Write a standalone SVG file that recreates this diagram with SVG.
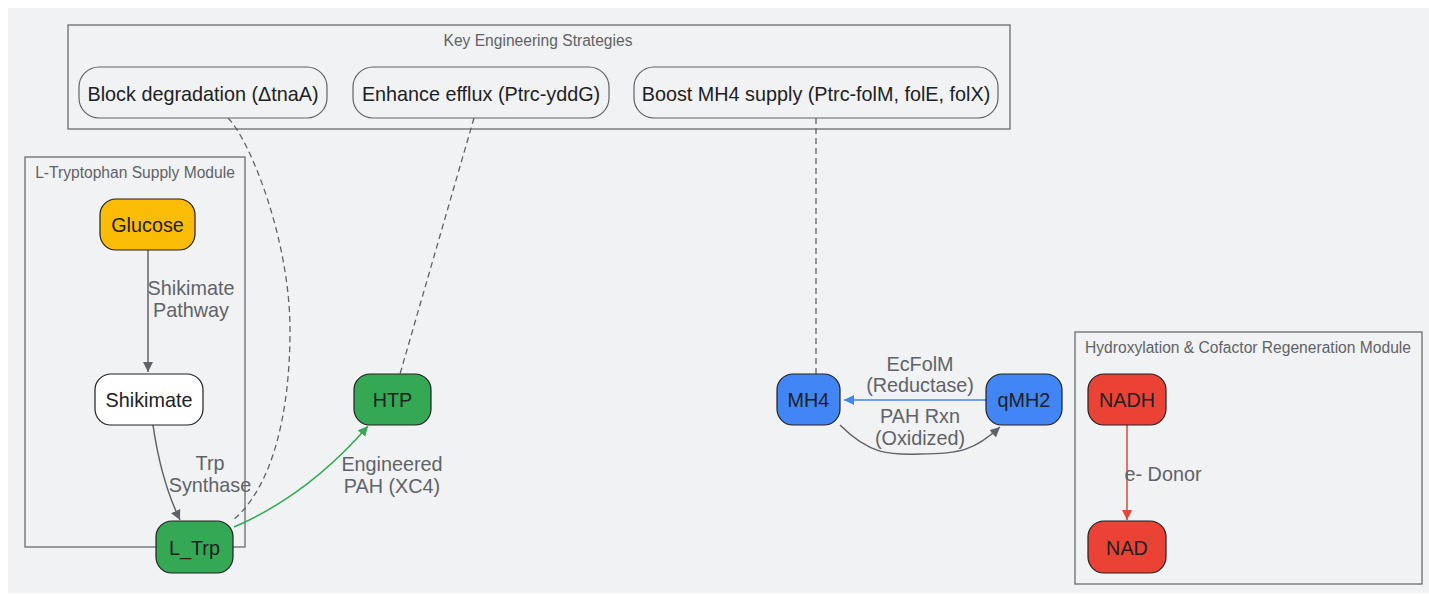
<svg xmlns="http://www.w3.org/2000/svg" width="1429" height="594" viewBox="0 0 1429 594">
<style>
.cl{fill:none;stroke:#6b6b6b;stroke-width:1.3}
.ct{font-family:"Liberation Sans",Arial,sans-serif;font-size:15.6px;fill:#5f6368;text-anchor:middle}
.nd{stroke:#202124;stroke-width:1.2}
.st{fill:#f1f2f4;stroke:#5f6368;stroke-width:1.2}
.nt{font-family:"Liberation Sans",Arial,sans-serif;font-size:19.8px;fill:#202124;text-anchor:middle;dominant-baseline:central}
.lb{font-family:"Liberation Sans",Arial,sans-serif;font-size:19.8px;fill:#5f6368;text-anchor:middle}
.e{fill:none;stroke-width:1.5}
.d{fill:none;stroke:#5f6368;stroke-width:1.3;stroke-dasharray:6,4}
</style>
<defs>
<marker id="ag" viewBox="0 0 10 10" refX="10" refY="5" markerWidth="10" markerHeight="10" markerUnits="userSpaceOnUse" orient="auto"><path d="M0,0L10,5L0,10z" fill="#5f6368"/></marker>
<marker id="agn" viewBox="0 0 10 10" refX="10" refY="5" markerWidth="10" markerHeight="10" markerUnits="userSpaceOnUse" orient="auto"><path d="M0,0L10,5L0,10z" fill="#34a853"/></marker>
<marker id="ab" viewBox="0 0 10 10" refX="10" refY="5" markerWidth="10" markerHeight="10" markerUnits="userSpaceOnUse" orient="auto"><path d="M0,0L10,5L0,10z" fill="#4285f4"/></marker>
<marker id="ar" viewBox="0 0 10 10" refX="10" refY="5" markerWidth="10" markerHeight="10" markerUnits="userSpaceOnUse" orient="auto"><path d="M0,0L10,5L0,10z" fill="#ea4335"/></marker>
</defs>
<rect x="8" y="8" width="1421" height="585" fill="#f1f2f4"/>
<g id="cluster-strategies">
<rect class="cl" x="68" y="25" width="942" height="104"/>
<text class="ct" x="538" y="46">Key Engineering Strategies</text>
</g>
<g id="cluster-trp">
<rect class="cl" x="25" y="157" width="220" height="390"/>
<text class="ct" x="135" y="178">L-Tryptophan Supply Module</text>
</g>
<g id="cluster-hydrox">
<rect class="cl" x="1075" y="332" width="347" height="252"/>
<text class="ct" x="1248" y="353">Hydroxylation &amp; Cofactor Regeneration Module</text>
</g>
<g id="connectors">
<path class="e" stroke="#5f6368" d="M148,250 L148,372" marker-end="url(#ag)"/>
<text class="lb" x="191" y="295">Shikimate</text>
<text class="lb" x="191" y="317">Pathway</text>
<path class="e" stroke="#5f6368" d="M153,425 C158,460 168,495 180,520" marker-end="url(#ag)"/>
<text class="lb" x="210" y="470">Trp</text>
<text class="lb" x="210" y="492">Synthase</text>
<path class="e" stroke="#34a853" d="M234,527 C285,505 330,470 368,426" marker-end="url(#agn)"/>
<text class="lb" x="392" y="471">Engineered</text>
<text class="lb" x="392" y="493">PAH (XC4)</text>
<path class="d" d="M228,118 C250,140 290,240 290,330 C290,420 270,490 232,521"/>
<path class="d" d="M474,118 L400,374"/>
<path class="d" d="M816,118 L816,374"/>
<path class="e" stroke="#4285f4" d="M986,400 L844,400" marker-end="url(#ab)"/>
<text class="lb" x="920" y="371">EcFolM</text>
<text class="lb" x="920" y="392">(Reductase)</text>
<path class="e" stroke="#5f6368" d="M840,425 C870,455 890,455 920,454 C960,454 975,450 1000,427" marker-end="url(#ag)"/>
<text class="lb" x="920" y="423">PAH Rxn</text>
<text class="lb" x="920" y="445">(Oxidized)</text>
<path class="e" stroke="#ea4335" d="M1127,425 L1127,520" marker-end="url(#ar)"/>
<text class="lb" x="1163" y="481">e- Donor</text>
</g>
<g id="node-block"><rect class="st" x="79" y="67" width="248" height="51" rx="20"/><text class="nt" x="203" y="94">Block degradation (ΔtnaA)</text></g>
<g id="node-efflux"><rect class="st" x="353" y="67" width="256" height="51" rx="20"/><text class="nt" x="481" y="94">Enhance efflux (Ptrc-yddG)</text></g>
<g id="node-boost"><rect class="st" x="634" y="67" width="364" height="51" rx="20"/><text class="nt" x="816" y="94">Boost MH4 supply (Ptrc-folM, folE, folX)</text></g>
<g id="node-glucose"><rect class="nd" fill="#fbbc05" x="100" y="199" width="95" height="51" rx="16"/><text class="nt" x="147.5" y="225">Glucose</text></g>
<g id="node-shikimate"><rect class="nd" fill="#ffffff" x="95" y="374" width="108" height="51" rx="16"/><text class="nt" x="149" y="400">Shikimate</text></g>
<g id="node-ltrp"><rect class="nd" fill="#34a853" x="156" y="521" width="77" height="52" rx="16"/><text class="nt" x="194.5" y="548">L_Trp</text></g>
<g id="node-htp"><rect class="nd" fill="#34a853" x="354" y="374" width="77" height="51" rx="16"/><text class="nt" x="392.5" y="400">HTP</text></g>
<g id="node-mh4"><rect class="nd" fill="#4285f4" x="777" y="374" width="63" height="51" rx="16"/><text class="nt" x="808.5" y="400">MH4</text></g>
<g id="node-qmh2"><rect class="nd" fill="#4285f4" x="986" y="374" width="76" height="51" rx="16"/><text class="nt" x="1024" y="400">qMH2</text></g>
<g id="node-nadh"><rect class="nd" fill="#ea4335" x="1088" y="374" width="78" height="51" rx="16"/><text class="nt" x="1127" y="400">NADH</text></g>
<g id="node-nad"><rect class="nd" fill="#ea4335" x="1088" y="521" width="78" height="52" rx="16"/><text class="nt" x="1127" y="548">NAD</text></g>
</svg>
